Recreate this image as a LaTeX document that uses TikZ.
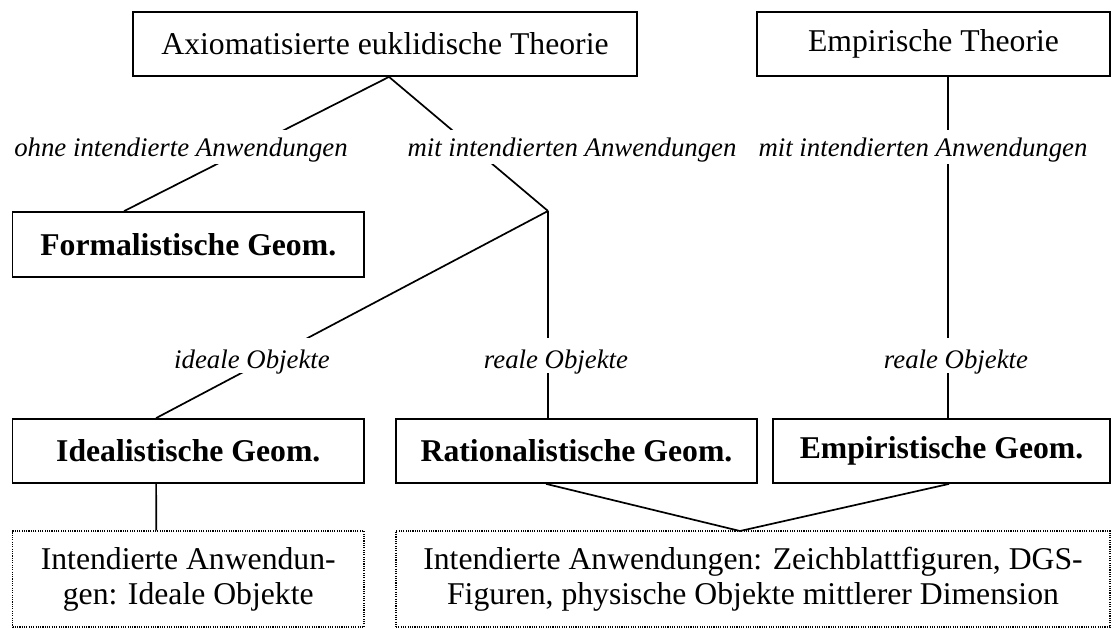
\documentclass[tikz,border=0pt]{standalone}
\usepackage{fontspec}
\setmainfont{Liberation Serif}
\usetikzlibrary{calc}
\begin{document}
\begin{tikzpicture}[x=1pt,y=-1pt,
  box/.style={draw, line width=1.8pt, inner sep=0pt, minimum height=64pt, align=center, font=\fontsize{31.7}{35}\selectfont},
  bbox/.style={box, font=\fontsize{31.7}{35}\selectfont\bfseries},
  appbox/.style={draw, line width=1.4pt, dash pattern=on 1.1pt off 1.2pt, inner sep=0pt, minimum height=96pt, align=center, font=\fontsize{31.7}{35}\selectfont},
  lbl/.style={fill=white, inner xsep=3pt, inner ysep=0pt, anchor=base, font=\fontsize{26.8}{30}\selectfont\itshape},
  lblA/.style={lbl, text height=27pt, text depth=7pt},
  lblB/.style={lbl, text height=30pt, text depth=5pt},
  conn/.style={line width=1.7pt}
]
\useasboundingbox (0,0) rectangle (1111,628);
% boxes
\node[box, minimum width=504pt] (ax) at (385,44) {Axiomatisierte euklidische Theorie};
\node[box, minimum width=353pt] (emp) at (933.5,44) {Empirische Theorie};
\node[bbox, minimum width=351.5pt, minimum height=65pt] (form) at (188.25,244.5) {Formalistische Geom.};
\node[bbox, minimum width=351.5pt] (ideal) at (188.25,451) {Idealistische Geom.};
\node[bbox, minimum width=361pt] (rat) at (576.5,451) {Rationalistische Geom.};
\node[bbox, minimum width=337pt] (empg) at (941.5,451) {Empiristische Geom.};
\node[appbox, minimum width=351.5pt] (app1) at (188.25,579) {Intendierte Anwendun-\\gen: Ideale Objekte};
\node[appbox, minimum width=714pt] (app2) at (753,579) {Intendierte Anwendungen: Zeichblattfiguren, DGS-\\Figuren, physische Objekte mittlerer Dimension};
% junctions
\coordinate (J) at (548,211);
\coordinate (M) at (740,531);
% connectors
\draw[conn] ($(ax.south)+(4,0)$) -- ($(form.north west)+(112.5,0)$);
\draw[conn] ($(ax.south)+(4,0)$) -- (J);
\draw[conn] (J) -- ($(ideal.north west)+(144.5,0)$);
\draw[conn] (J) -- (J |- rat.north);
\draw[conn] ($(emp.south west)+(192,0)$) -- ($(empg.north west)+(176,0)$);
\draw[conn] ($(ideal.south west)+(144.5,0)$) -- ($(app1.north west)+(144.5,0)$);
\draw[conn] ($(rat.south west)+(151,0)$) -- (M);
\draw[conn] ($(empg.south west)+(177,0)$) -- (M);
% labels
\node[lblA] (l1) at (181,157) {ohne intendierte Anwendungen};
\node[lblA] (l2) at (572,157) {mit intendierten Anwendungen};
\node[lblA] (l3) at (923,157) {mit intendierten Anwendungen};
\node[lblB] (l4) at (252,368) {ideale Objekte};
\node[lblB] (l5) at (556,368) {reale Objekte};
\node[lblB] (l6) at (956,368) {reale Objekte};
\end{tikzpicture}
\end{document}
